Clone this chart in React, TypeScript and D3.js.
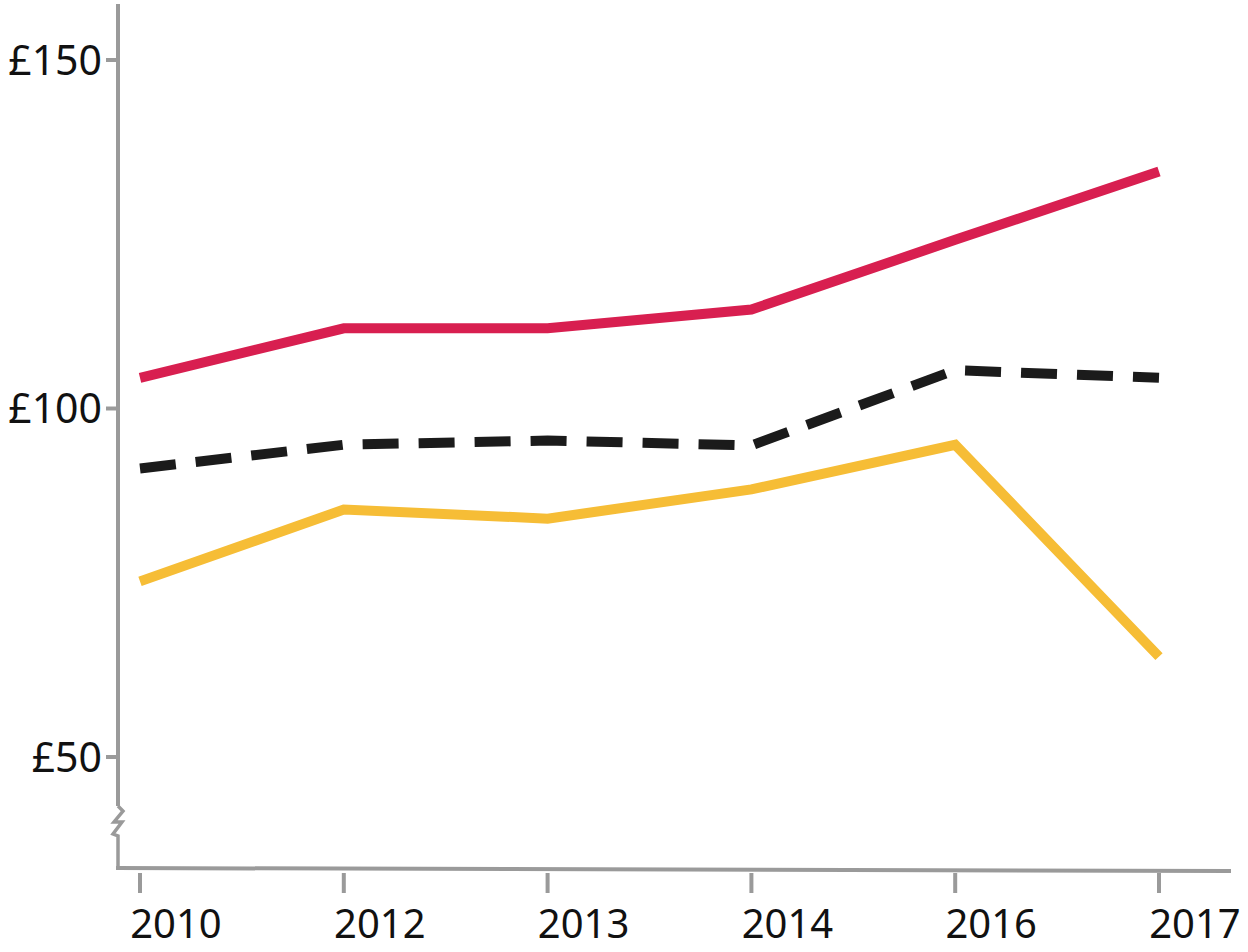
import * as d3 from "d3";

const years = ["2010", "2012", "2013", "2014", "2016", "2017"];
const redValues = [104.4, 111.5, 111.5, 114.2, 124.2, 134.0];
const blackValues = [91.4, 94.8, 95.4, 94.7, 105.5, 104.4];
const yellowValues = [75.2, 85.5, 84.2, 88.4, 94.8, 64.4];
const yTicks = [50, 100, 150];

const W = 1248;
const H = 952;
const AXIS = "#9a9a9a";
const FONT = "'Noto Sans', 'DejaVu Sans', sans-serif";

const x = d3.scalePoint<string>().domain(years).range([140, 1159]);
const y = d3.scaleLinear().domain([50, 150]).range([757, 60]);

const line = d3
  .line<number>()
  .x((_, i) => x(years[i]) ?? 0)
  .y((d) => y(d));

const series = [
  { values: redValues, color: "#d81f50", dash: undefined as string | undefined },
  { values: blackValues, color: "#1b1b1b", dash: "36 20" },
  { values: yellowValues, color: "#f6bd36", dash: undefined as string | undefined },
];

const axisLeft = 118;
const axisBottom = 868;

export default function App() {
  return (
    <div style={{ position: "absolute", left: 0, top: 0 }}>
      <svg width={W} height={H} style={{ display: "block", background: "#fff" }}>
        {/* y axis with break */}
        <line x1={axisLeft} x2={axisLeft} y1={4} y2={806} stroke={AXIS} strokeWidth={4} />
        <path
          d={`M${axisLeft},806 L123,811 L114,822 L122,822 L113,834 L${axisLeft},836 L${axisLeft},${axisBottom}`}
          fill="none"
          stroke={AXIS}
          strokeWidth={3.5}
          strokeLinejoin="miter"
        />
        {/* x axis */}
        <line x1={axisLeft - 2} x2={1231} y1={axisBottom} y2={871} stroke={AXIS} strokeWidth={4} />

        {yTicks.map((t) => (
          <g key={t}>
            <line x1={106} x2={axisLeft} y1={y(t)} y2={y(t)} stroke={AXIS} strokeWidth={4} />
            <text
              x={102}
              y={y(t)}
              dy="0.36em"
              textAnchor="end"
              fontFamily={FONT}
              fontSize={41}
              fill="#111"
            >
              £{t}
            </text>
          </g>
        ))}

        {years.map((yr) => (
          <g key={yr}>
            <line
              x1={x(yr)}
              x2={x(yr)}
              y1={873}
              y2={893}
              stroke={AXIS}
              strokeWidth={4}
            />
            <text
              x={(x(yr) ?? 0) + 36}
              y={938}
              textAnchor="middle"
              fontFamily={FONT}
              fontSize={40}
              fill="#111"
            >
              {yr}
            </text>
          </g>
        ))}

        {series.map((s, i) => (
          <path
            key={i}
            d={line(s.values) ?? ""}
            fill="none"
            stroke={s.color}
            strokeWidth={10}
            strokeDasharray={s.dash}
            strokeLinejoin="miter"
          />
        ))}
      </svg>
    </div>
  );
}
